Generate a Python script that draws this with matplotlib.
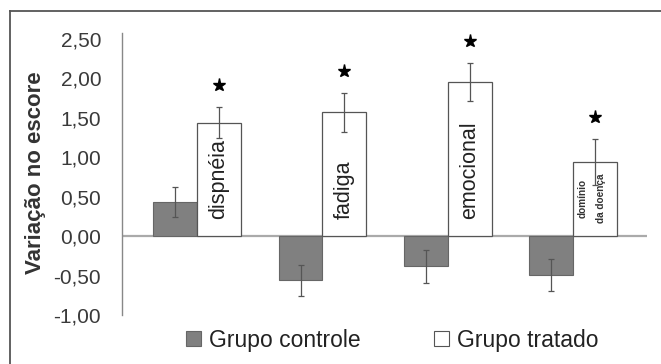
import numpy as np
import matplotlib
matplotlib.use("Agg")
import matplotlib.pyplot as plt
from matplotlib.lines import Line2D

plt.rcParams['font.family'] = ['Liberation Sans', 'DejaVu Sans']

# data
domains = ['dispnéia', 'fadiga', 'emocional', 'domínio\nda doença']
controle = [0.43, -0.56, -0.38, -0.49]
controle_err = [0.19, 0.20, 0.21, 0.20]
tratado = [1.44, 1.57, 1.95, 0.94]
tratado_err = [0.20, 0.25, 0.24, 0.29]
signif = [True, True, True, True]
yticks = [-1.0, -0.5, 0.0, 0.5, 1.0, 1.5, 2.0, 2.5]

W, H = 661, 364
fig = plt.figure(figsize=(W / 100, H / 100), dpi=100)
ax = fig.add_axes([122 / W, 1 - 315 / H, 525 / W, 276 / H])

x = np.arange(len(domains))
bw = 0.35
ax.bar(x - bw / 2, controle, bw, color='#808080', edgecolor='#666666', lw=0.8, zorder=2)
ax.bar(x + bw / 2, tratado, bw, color='white', edgecolor='#555555', lw=0.9, zorder=2)
ax.errorbar(x - bw / 2, controle, yerr=controle_err, fmt='none', ecolor='#555555',
            elinewidth=0.9, capsize=2, capthick=0.9, zorder=3)
ax.errorbar(x + bw / 2, tratado, yerr=tratado_err, fmt='none', ecolor='#555555',
            elinewidth=0.9, capsize=2, capthick=0.9, zorder=3)

# significance stars
for xi, t, e, s in zip(x, tratado, tratado_err, signif):
    if s:
        ax.plot(xi + bw / 2, t + e + 0.28, marker='*', ms=9.5, color='black',
                zorder=4, clip_on=False)

# domain names inside the treated bars
for xi, name in zip(x, domains):
    if '\n' in name:
        ax.text(xi + bw / 2 - 0.025, 0.17, name, rotation=90, ha='center', va='bottom',
                fontsize=7.2, fontweight='bold', linespacing=2.1, color='#333333', zorder=4)
    else:
        ax.text(xi + bw / 2, 0.22, name, rotation=90, ha='center', va='bottom',
                fontsize=15.5, color='#222222', zorder=4)

ax.axhline(0, color='#aaaaaa', lw=1.6, zorder=1)
ax.set_xlim(-0.6, 3.59)
ax.set_ylim(-1.0, 2.5)
ax.set_yticks(yticks)
ax.set_yticklabels([f'{v:.2f}'.replace('.', ',') for v in yticks], fontsize=15, color='#3a3a3a')
ax.set_xticks([])
ax.tick_params(axis='y', length=0, pad=15)
for side in ['top', 'right', 'bottom']:
    ax.spines[side].set_visible(False)
ax.spines['left'].set_color('#888888')
ax.spines['left'].set_linewidth(1.0)
ax.spines['left'].set_bounds(-1.0, 2.58)
ax.set_ylabel('Variação no escore', fontsize=16, fontweight='bold', color='#333333')
ax.yaxis.set_label_coords(-0.145, 0.516)

handles = [plt.Rectangle((0, 0), 1, 1, fc='#808080', ec='#666666', lw=0.8),
           plt.Rectangle((0, 0), 1, 1, fc='white', ec='#555555', lw=0.8)]
fig.legend(handles, ['Grupo controle', 'Grupo tratado'], loc='center',
           bbox_to_anchor=(392 / W, 1 - 340 / H), ncol=2, frameon=False, fontsize=16.5,
           handlelength=0.65, handleheight=0.65, handletextpad=0.35, columnspacing=3.2,
           labelcolor='#222222')

# outer frame (left and top edges, as in the cropped reference)
fig.add_artist(Line2D([10 / W, 10 / W], [0, 1 - 10.5 / H], color='#555555', lw=1.3))
fig.add_artist(Line2D([10 / W, 1], [1 - 10.5 / H, 1 - 10.5 / H], color='#555555', lw=1.3))

fig.savefig('out.png', dpi=100)
plt.close(fig)
